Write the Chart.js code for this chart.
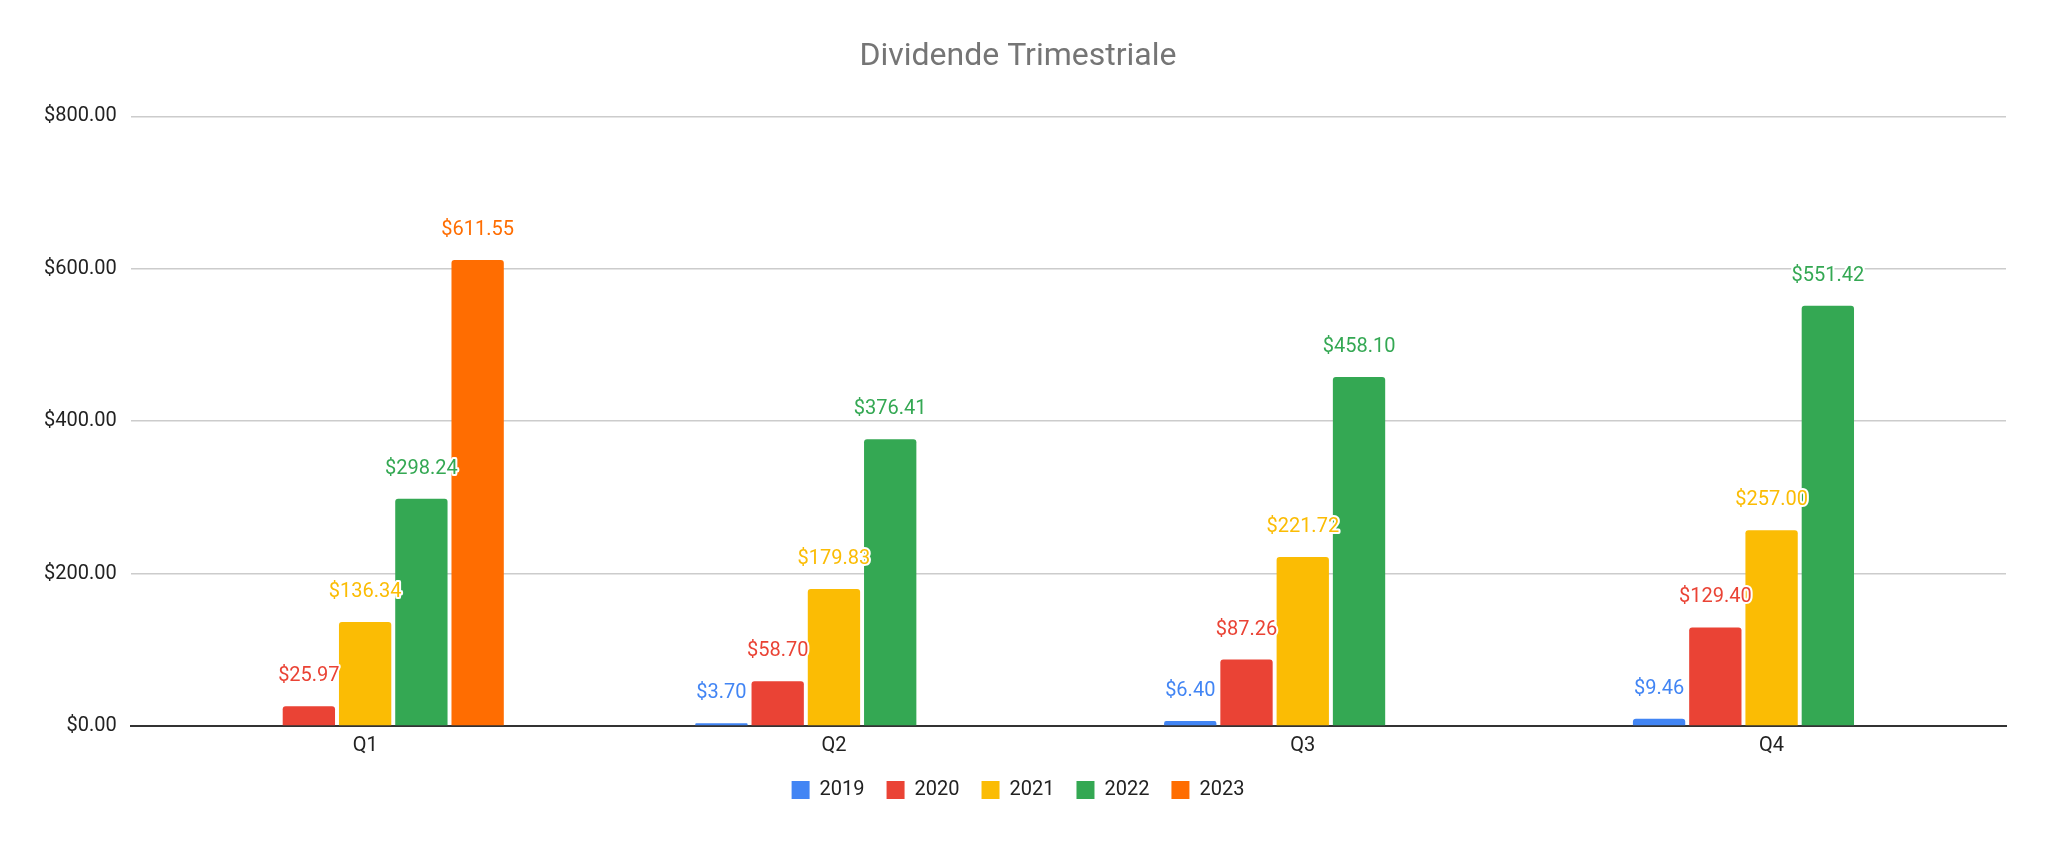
<!DOCTYPE html>
<html>
<head>
<meta charset="utf-8">
<script src="https://cdn.jsdelivr.net/npm/chart.js@4"></script>
<style>
  html, body { margin: 0; padding: 0; background: #fff; }
  #wrap { width: 2048px; height: 841px; }
</style>
</head>
<body>
<div id="wrap"><canvas id="chart" width="2048" height="841"></canvas></div>
<script>
// ─── DATA ──────────────────────────────────────────────
const quarters = ['Q1', 'Q2', 'Q3', 'Q4'];
const years = ['2019', '2020', '2021', '2022', '2023'];
const values2019 = [null, 3.70, 6.40, 9.46];
const values2020 = [25.97, 58.70, 87.26, 129.40];
const values2021 = [136.34, 179.83, 221.72, 257.00];
const values2022 = [298.24, 376.41, 458.10, 551.42];
const values2023 = [611.55, null, null, null];
const colors = ['#4285f4', '#ea4335', '#fbbc04', '#34a853', '#ff6d01'];

const seriesValues = [values2019, values2020, values2021, values2022, values2023];
const money = v => '$' + v.toFixed(2);

// Data labels above each bar, with a white halo
const barLabels = {
  id: 'barLabels',
  afterDatasetsDraw(chart) {
    const ctx = chart.ctx;
    ctx.save();
    ctx.font = '20px Roboto';
    ctx.textAlign = 'center';
    ctx.textBaseline = 'bottom';
    ctx.lineJoin = 'round';
    chart.data.datasets.forEach((ds, i) => {
      chart.getDatasetMeta(i).data.forEach((bar, j) => {
        const v = ds.data[j];
        if (v == null) return;
        const y = bar.y - 20;
        ctx.lineWidth = 4;
        ctx.strokeStyle = '#fff';
        ctx.strokeText(money(v), bar.x, y);
        ctx.fillStyle = ds.backgroundColor;
        ctx.fillText(money(v), bar.x, y);
      });
    });
    ctx.restore();
  }
};

new Chart(document.getElementById('chart'), {
  type: 'bar',
  data: {
    labels: quarters,
    datasets: years.map((y, i) => ({
      label: y,
      data: seriesValues[i],
      backgroundColor: colors[i],
      borderRadius: { topLeft: 3, topRight: 3 },
      borderSkipped: 'bottom',
      categoryPercentage: 0.6,
      barPercentage: 0.93
    }))
  },
  options: {
    responsive: false,
    animation: false,
    layout: { padding: { left: 30, right: 42, top: 10, bottom: 31 } },
    plugins: {
      title: {
        display: true,
        text: 'Dividende Trimestriale',
        color: '#757575',
        font: { family: 'Roboto', size: 32, weight: 'normal' },
        padding: { top: 28, bottom: 40 }
      },
      legend: {
        position: 'bottom',
        labels: {
          boxWidth: 18, boxHeight: 18, padding: 22,
          color: '#222', font: { family: 'Roboto', size: 20 }
        }
      },
      tooltip: { enabled: false }
    },
    scales: {
      x: {
        grid: { display: false },
        border: { color: '#333', width: 2 },
        ticks: { color: '#222', font: { family: 'Roboto', size: 20 }, padding: 0 }
      },
      y: {
        min: 0, max: 800,
        ticks: {
          stepSize: 200, color: '#222', padding: 14,
          font: { family: 'Roboto', size: 20 },
          callback: v => money(v)
        },
        grid: { color: '#cccccc', lineWidth: 1.5, drawTicks: false },
        border: { display: false }
      }
    }
  },
  plugins: [barLabels]
});
</script>
</body>
</html>
